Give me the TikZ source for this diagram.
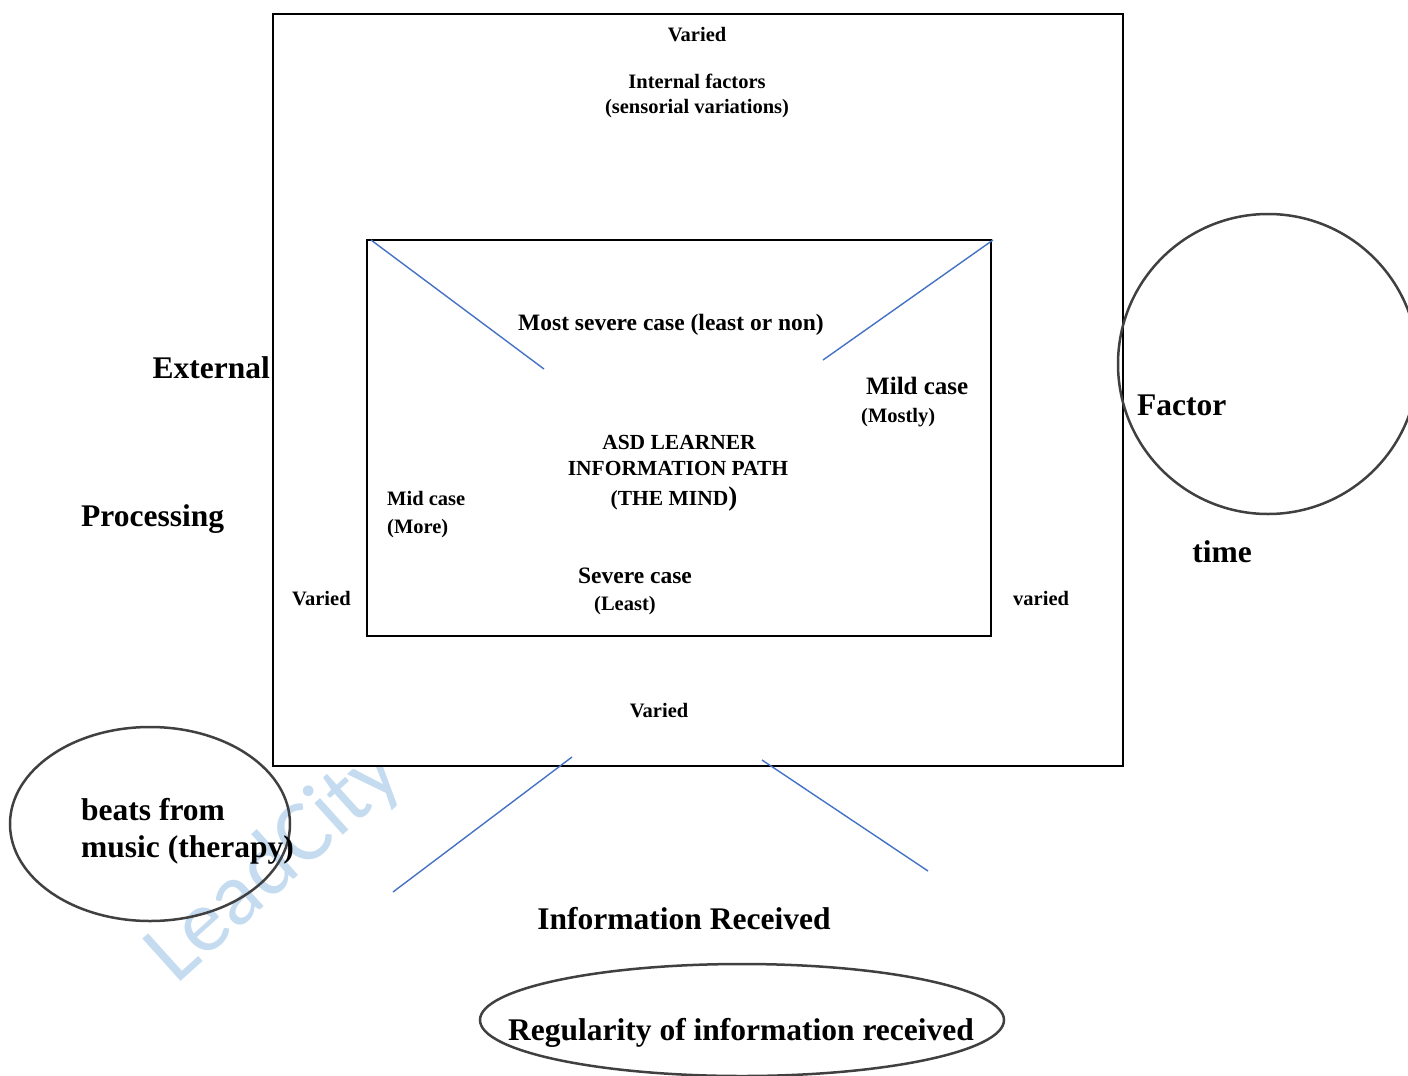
\documentclass[tikz,border=0pt]{standalone}
\usepackage{fontspec}
\setmainfont{Liberation Serif}
\setsansfont{Carlito}
\usetikzlibrary{shapes.geometric}
\definecolor{lineblue}{RGB}{68,114,196}
\definecolor{wmblue}{RGB}{197,220,240}
\definecolor{ovalgray}{RGB}{64,64,64}
\begin{document}
\begin{tikzpicture}[x=1pt,y=-1pt,
  sm/.style={font=\bfseries\fontsize{20.5}{24}\selectfont, inner sep=0pt},
  asd/.style={font=\bfseries\fontsize{21.5}{24}\selectfont, inner sep=0pt},
  md/.style={font=\bfseries\fontsize{23.5}{27}\selectfont, inner sep=0pt},
  bg/.style={font=\bfseries\fontsize{31.5}{36}\selectfont, inner sep=0pt},
  box/.style={draw=black, line width=1.5, inner sep=0pt},
  oval/.style={draw=ovalgray, line width=2.5, inner sep=0pt},
  bline/.style={draw=lineblue, line width=1.4},
  wm/.style={font=\sffamily\fontsize{89}{89}\selectfont, text=wmblue, inner sep=0pt}]
\useasboundingbox (0,0) rectangle (1408,1076);
\clip (0,0) rectangle (1408,1076);
% watermark
\node[wm, rotate=42, anchor=base west] (wm) at (176,986) {LeadCity};
% frames
\node[box, fill=white, minimum width=850, minimum height=752, anchor=north west] (outer) at (272,13) {};
\node[box, minimum width=624, minimum height=396, anchor=north west] (inner) at (366,239) {};
% blue lines
\coordinate (a1) at (371,240); \coordinate (a2) at (544,369);
\coordinate (b1) at (993,240); \coordinate (b2) at (823,360);
\coordinate (c1) at (572,757); \coordinate (c2) at (393,892);
\coordinate (d1) at (762,760); \coordinate (d2) at (928,871);
\draw[bline] (a1) -- (a2);
\draw[bline] (b1) -- (b2);
\draw[bline] (c1) -- (c2);
\draw[bline] (d1) -- (d2);
% ovals
\node[oval, circle, minimum size=300] (factorc) at (1268,364) {};
\node[oval, ellipse, minimum width=280, minimum height=194] (beatsc) at (150,824) {};
\node[oval, ellipse, minimum width=524, minimum height=112] (regc) at (742,1020) {};
% texts in outer frame
\node[sm, anchor=base] (vtop) at (697,41) {Varied};
\node[sm, anchor=base] (int1) at (697,88) {Internal factors};
\node[sm, anchor=base] (int2) at (697,113) {(sensorial variations)};
\node[sm, anchor=base west] (vleft) at (292,605) {Varied};
\node[sm, anchor=base west] (vright) at (1013,605) {varied};
\node[sm, anchor=base] (vbot) at (659,717) {Varied};
% texts in inner frame
\node[md, anchor=base] (most) at (671,330) {Most severe case (least or non)};
\node[font=\bfseries\fontsize{25}{28}\selectfont, inner sep=0pt, anchor=base west] (mild1) at (866,394) {Mild case};
\node[sm, anchor=base west] (mild2) at (861,422) {(Mostly)};
\node[asd, anchor=base] (asd1) at (679,449) {ASD LEARNER};
\node[asd, anchor=base] (asd2) at (678,475) {INFORMATION PATH};
\node[asd, anchor=base] (asd3) at (674,505) {(THE MIND{\fontsize{27}{27}\selectfont )}};
\node[sm, anchor=base west] (mid1) at (387,505) {Mid case};
\node[sm, anchor=base west] (mid2) at (387,533) {(More)};
\node[md, anchor=base] (sev1) at (635,583) {Severe case};
\node[sm, anchor=base west] (sev2) at (594,610) {(Least)};
% big labels
\node[bg, anchor=base east] (ext) at (270,378) {External};
\node[bg, anchor=base west] (proc) at (81,526) {Processing};
\node[bg, anchor=base west] (fac) at (1137,415) {Factor};
\node[bg, anchor=base] (time) at (1222,562) {time};
\node[bg, anchor=base west] (beats1) at (81,820) {beats from};
\node[bg, anchor=base west] (beats2) at (81,857) {music (therapy)};
\node[bg, anchor=base] (inforec) at (684,929) {Information Received};
\node[bg, anchor=base] (reg) at (741,1040) {Regularity of information received};
\end{tikzpicture}
\end{document}
